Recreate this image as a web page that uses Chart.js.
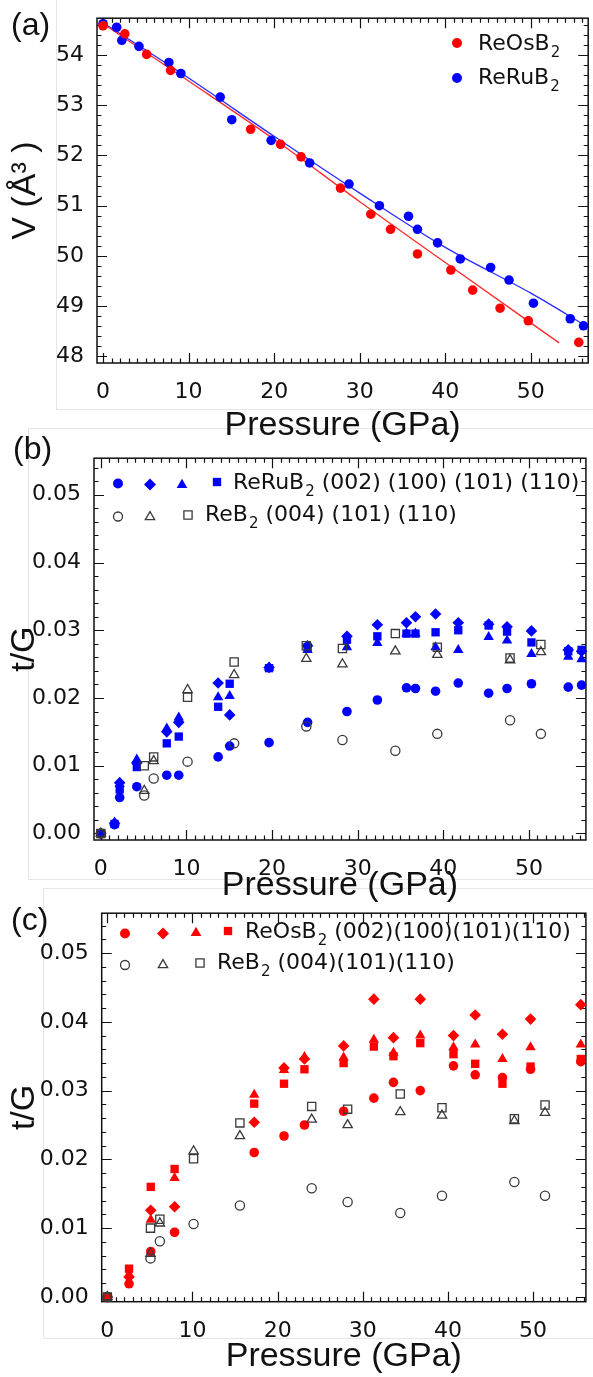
<!DOCTYPE html>
<html>
<head>
<meta charset="utf-8">
<script src="https://cdn.jsdelivr.net/npm/chart.js@4/dist/chart.umd.min.js"></script>
<style>
  html, body { margin: 0; padding: 0; background: #fff; }
  body { position: relative; width: 593px; height: 1377px; overflow: hidden; }
  canvas { position: absolute; left: 0; }
  .frame { position: absolute; border: 1px solid #e6e6e6; }
  .tag { position: absolute; font-family: 'Liberation Sans', Arial, sans-serif; font-size: 32px; line-height: 1; color: #111; }
</style>
</head>
<body>
<div class="frame" style="left:56px; top:-2px; width:540px; height:410px"></div>
<div class="frame" style="left:28px; top:428px; width:570px; height:450px"></div>
<div class="frame" style="left:43px; top:888px; width:555px; height:449px"></div>

<canvas id="chartA" width="593" height="450" style="top:0; width:593px; height:450px"></canvas>
<canvas id="chartB" width="593" height="470" style="top:440px; width:593px; height:470px"></canvas>
<canvas id="chartC" width="593" height="482" style="top:895px; width:593px; height:482px"></canvas>

<div class="tag" style="left:11px; top:8px">(a)</div>
<div class="tag" style="left:13px; top:432px">(b)</div>
<div class="tag" style="left:11px; top:903px">(c)</div>

<script>
// tick labels
const xTicks = [0, 10, 20, 30, 40, 50];
const volTicks = [48, 49, 50, 51, 52, 53, 54];
const tgTicks = [0.00, 0.01, 0.02, 0.03, 0.04, 0.05];

// ReOsB2 pressures (GPa), used in (a) and (c)
const osPressure = [0, 2.55, 5.1, 7.9, 17.25, 20.75, 23.15, 27.75, 31.3, 33.6, 36.75, 40.65, 43.2, 46.4, 49.7, 55.6];
// ReRuB2 pressures (GPa), used in (a) and (b)
const ruPressure = [0, 1.6, 2.2, 4.2, 7.7, 9.1, 13.7, 15.05, 19.65, 24.15, 28.75, 32.3, 35.7, 36.75, 39.1, 41.75, 45.3, 47.45, 50.3, 54.6, 56.15];
// ReB2 reference pressures, used in (b) and (c)
const reb2Pressure = [0, 5.07, 6.17, 10.13, 15.57, 24.0, 28.22, 34.4, 39.3, 47.8, 51.4];

// (a) unit cell volume, A^3
const osVolume = [54.58, 54.42, 54.01, 53.69, 52.52, 52.22, 51.97, 51.35, 50.83, 50.53, 50.04, 49.72, 49.32, 48.96, 48.71, 48.28];
const ruVolume = [54.62, 54.55, 54.29, 54.17, 53.85, 53.63, 53.16, 52.71, 52.30, 51.85, 51.43, 51.0, 50.79, 50.53, 50.26, 49.94, 49.77, 49.52, 49.06, 48.75, 48.61];
// (a) fitted curves
const osFitP = [0, 10, 20, 30, 40, 53.3];
const osFitV = [54.62, 53.48, 52.32, 51.08, 49.87, 48.27];
const ruFitP = [0, 10, 20, 30, 40, 50, 56.7];
const ruFitV = [54.64, 53.54, 52.38, 51.25, 50.17, 49.26, 48.58];

// (b) ReRuB2 t/G
const ru002 = [0, 0.0013, 0.0053, 0.0069, 0.0086, 0.0086, 0.0113, 0.0129, 0.0134, 0.0164, 0.0180, 0.0197, 0.0215, 0.0214, 0.0210, 0.0222, 0.0207, 0.0214, 0.0221, 0.0216, 0.0219];
const ru100 = [0, 0.0015, 0.0075, 0.0104, 0.0150, 0.0164, 0.0222, 0.0175, 0.0245, 0.0277, 0.0291, 0.0308, 0.0311, 0.0320, 0.0324, 0.0311, 0.0309, 0.0305, 0.0299, 0.0271, 0.0269];
const ru101 = [0, 0.0016, 0.0073, 0.0109, 0.0155, 0.0171, 0.0201, 0.0203, 0.0245, 0.0271, 0.0275, 0.0281, 0.0295, 0.0295, 0.0275, 0.0271, 0.0290, 0.0285, 0.0265, 0.0261, 0.0257];
const ru110 = [0, 0.0014, 0.0065, 0.0098, 0.0133, 0.0143, 0.0187, 0.0221, 0.0244, 0.0275, 0.0286, 0.0291, 0.0295, 0.0295, 0.0297, 0.0300, 0.0307, 0.0298, 0.0282, 0.0269, 0.0271];

// (c) ReOsB2 t/G
const os002 = [0, 0.0019, 0.0066, 0.0094, 0.0210, 0.0234, 0.0250, 0.0270, 0.0289, 0.0312, 0.0300, 0.0336, 0.0323, 0.0319, 0.0331, 0.0342];
const os100 = [0, 0.0029, 0.0126, 0.0131, 0.0254, 0.0333, 0.0346, 0.0365, 0.0433, 0.0377, 0.0433, 0.0380, 0.0410, 0.0382, 0.0404, 0.0425];
const os101 = [0, 0.0033, 0.0112, 0.0173, 0.0294, 0.0330, 0.0349, 0.0348, 0.0374, 0.0355, 0.0380, 0.0363, 0.0367, 0.0346, 0.0363, 0.0367];
const os110 = [0, 0.0041, 0.0160, 0.0186, 0.0281, 0.0310, 0.0331, 0.0340, 0.0364, 0.0350, 0.0369, 0.0353, 0.0339, 0.0310, 0.0335, 0.0346];

// ReB2 reference t/G (same in b and c)
const reb2_004 = [0, 0.0056, 0.0081, 0.0106, 0.0133, 0.0158, 0.0138, 0.0122, 0.0147, 0.0167, 0.0147];
const reb2_101 = [0, 0.0063, 0.0107, 0.0212, 0.0234, 0.0258, 0.0250, 0.0269, 0.0264, 0.0256, 0.0268];
const reb2_110 = [0, 0.0100, 0.0113, 0.0201, 0.0253, 0.0277, 0.0273, 0.0295, 0.0275, 0.0259, 0.0279];

const RED = '#ff0000';
const BLUE = '#0000ff';
const GRAY = '#3a3a3a';
const TICK_FONT = { family: 'DejaVu Sans', size: 22 };
const TITLE_FONT = { family: 'Liberation Sans', size: 34 };

const pts = (xs, ys) => xs.map((x, i) => ({ x: x, y: ys[i] }));

// same shapes as Chart.js point styles, for the key
function drawMark(ctx, style, x, y, r, fill, stroke) {
    ctx.beginPath();
    if (style === 'circle') {
        ctx.arc(x, y, r, 0, Math.PI * 2);
    } else if (style === 'rectRot') {
        ctx.moveTo(x, y - r); ctx.lineTo(x + r, y); ctx.lineTo(x, y + r); ctx.lineTo(x - r, y);
    } else if (style === 'triangle') {
        ctx.moveTo(x, y - r); ctx.lineTo(x + 0.866 * r, y + 0.5 * r); ctx.lineTo(x - 0.866 * r, y + 0.5 * r);
    } else {
        const s = r * Math.SQRT1_2;
        ctx.rect(x - s, y - s, 2 * s, 2 * s);
    }
    ctx.closePath();
    if (fill) { ctx.fillStyle = fill; ctx.fill(); }
    if (stroke) { ctx.strokeStyle = stroke; ctx.lineWidth = 1.3; ctx.stroke(); }
}

// box with inward ticks on all four sides
function frameTicks(yMajor, yMinor) {
    return {
        id: 'frameTicks',
        beforeDatasetsDraw(chart) {
            const { ctx, chartArea: a } = chart;
            const xs = chart.scales.x, ys = chart.scales.y;
            ctx.save();
            ctx.strokeStyle = '#111';
            ctx.lineWidth = 1.5;
            ctx.strokeRect(a.left, a.top, a.right - a.left, a.bottom - a.top);
            ctx.lineWidth = 1.2;
            ctx.beginPath();
            const tickX = (v, len) => {
                const p = Math.round(xs.getPixelForValue(v)) + 0.5;
                ctx.moveTo(p, a.bottom); ctx.lineTo(p, a.bottom - len);
                ctx.moveTo(p, a.top); ctx.lineTo(p, a.top + len);
            };
            const tickY = (v, len) => {
                const p = Math.round(ys.getPixelForValue(v)) + 0.5;
                ctx.moveTo(a.left, p); ctx.lineTo(a.left + len, p);
                ctx.moveTo(a.right, p); ctx.lineTo(a.right - len, p);
            };
            for (let i = Math.ceil(xs.min); i <= xs.max; i++) tickX(i, 4.5);
            for (let i = Math.ceil(ys.min / yMinor); i * yMinor <= ys.max; i++) tickY(i * yMinor, 4.5);
            xTicks.forEach(v => tickX(v, 10));
            yMajor.forEach(v => tickY(v, 10));
            ctx.stroke();
            ctx.restore();
        }
    };
}

// legend rows: markers, then a name with subscript 2 and the rest
function markerKey(rows) {
    return {
        id: 'markerKey',
        afterDraw(chart) {
            const ctx = chart.ctx;
            ctx.save();
            rows.forEach(row => {
                row.marks.forEach(m => drawMark(ctx, m[0], m[1], m[2], m[3], row.fill, row.stroke));
                ctx.fillStyle = '#111';
                ctx.textBaseline = 'middle';
                ctx.font = '22px "DejaVu Sans"';
                ctx.fillText(row.name, row.textX, row.textY);
                let x = row.textX + ctx.measureText(row.name).width + 1;
                ctx.font = '15px "DejaVu Sans"';
                ctx.fillText('2', x, row.textY + 9);
                x += ctx.measureText('2').width;
                ctx.font = '22px "DejaVu Sans"';
                ctx.fillText(row.rest, x, row.textY);
            });
            ctx.restore();
        }
    };
}

function makeOptions(cfg) {
    return {
        responsive: false,
        animation: false,
        events: [],
        layout: { padding: { top: cfg.padTop, right: cfg.padRight, left: 0, bottom: 0 } },
        plugins: { legend: { display: false }, tooltip: { enabled: false } },
        scales: {
            x: {
                type: 'linear',
                min: cfg.xMin,
                max: cfg.xMax,
                grid: { display: false },
                border: { display: false },
                afterFit: s => { s.height = cfg.xAxisHeight; },
                afterBuildTicks: s => { s.ticks = xTicks.map(v => ({ value: v })); },
                ticks: { font: TICK_FONT, color: '#111', padding: 8, maxRotation: 0, autoSkip: false },
                title: { display: true, text: 'Pressure (GPa)', font: TITLE_FONT, color: '#111', padding: { top: 0, bottom: cfg.xTitlePad } }
            },
            y: {
                type: 'linear',
                min: cfg.yMin,
                max: cfg.yMax,
                grid: { display: false },
                border: { display: false },
                afterFit: s => { s.width = cfg.yAxisWidth; },
                afterBuildTicks: s => { s.ticks = cfg.yTicks.map(v => ({ value: v })); },
                ticks: { font: TICK_FONT, color: '#111', padding: 5, autoSkip: false, callback: cfg.fmt },
                title: { display: true, text: cfg.yTitle, font: TITLE_FONT, color: '#111', padding: { top: cfg.yTitlePad, bottom: 0 } }
            }
        }
    };
}

function filled(data, style, color, r) {
    return { data: data, pointStyle: style, pointRadius: r, pointBackgroundColor: color, pointBorderColor: color, pointBorderWidth: 0, showLine: false, clip: false };
}
function open(data, style, r) {
    return { data: data, pointStyle: style, pointRadius: r, pointBackgroundColor: 'rgba(0,0,0,0)', pointBorderColor: GRAY, pointBorderWidth: 1.3, showLine: false, clip: false };
}
function reb2Sets() {
    return [
        open(pts(reb2Pressure, reb2_004), 'circle', 4.6),
        open(pts(reb2Pressure, reb2_101), 'triangle', 5.4),
        open(pts(reb2Pressure, reb2_110), 'rect', 5.8)
    ];
}
function hklSets(p, a, b, c, d, color) {
    return [
        filled(pts(p, a), 'circle', color, 4.8),
        filled(pts(p, b), 'rectRot', color, 5.8),
        filled(pts(p, c), 'triangle', color, 6.0),
        filled(pts(p, d), 'rect', color, 5.9)
    ];
}

// (a) volume vs pressure
new Chart(document.getElementById('chartA'), {
    type: 'scatter',
    data: {
        datasets: [
            filled(pts(osPressure, osVolume), 'circle', RED, 4.8),
            filled(pts(ruPressure, ruVolume), 'circle', BLUE, 4.8),
            { data: pts(osFitP, osFitV), showLine: true, pointRadius: 0, borderColor: '#ff2a2a', borderWidth: 1.3, cubicInterpolationMode: 'monotone' },
            { data: pts(ruFitP, ruFitV), showLine: true, pointRadius: 0, borderColor: '#2a2aff', borderWidth: 1.3, cubicInterpolationMode: 'monotone' }
        ]
    },
    options: makeOptions({
        padTop: 7, padRight: 2, yAxisWidth: 97, xAxisHeight: 87, xTitlePad: 4,
        xMin: -0.7, xMax: 56.7, yMin: 47.87, yMax: 54.73,
        yTicks: volTicks, fmt: v => String(v),
        yTitle: 'V (Å³ )', yTitlePad: 5
    }),
    plugins: [
        frameTicks(volTicks, 0.2),
        markerKey([
            { marks: [['circle', 457, 43, 5]], fill: RED, name: 'ReOsB', rest: '', textX: 478, textY: 44 },
            { marks: [['circle', 457, 78, 5]], fill: BLUE, name: 'ReRuB', rest: '', textX: 478, textY: 78 }
        ])
    ]
});

// (b) ReRuB2 lattice strain
new Chart(document.getElementById('chartB'), {
    type: 'scatter',
    data: { datasets: reb2Sets().concat(hklSets(ruPressure, ru002, ru100, ru101, ru110, BLUE)) },
    options: makeOptions({
        padTop: 12, padRight: 1, yAxisWidth: 94, xAxisHeight: 70, xTitlePad: 4,
        xMin: -0.8, xMax: 56.66, yMin: -0.00097, yMax: 0.0554,
        yTicks: tgTicks, fmt: v => v.toFixed(2),
        yTitle: 't/G', yTitlePad: 4
    }),
    plugins: [
        frameTicks(tgTicks, 0.002),
        markerKey([
            { marks: [['circle', 118, 43.5, 5], ['rectRot', 150, 44.5, 6], ['triangle', 182, 45, 6.2], ['rect', 217, 42, 5.9]],
              fill: BLUE, name: 'ReRuB', rest: ' (002) (100) (101) (110)', textX: 233, textY: 43 },
            { marks: [['circle', 118, 76.5, 4.5], ['triangle', 150, 77, 5.4], ['rect', 188, 75, 5.8]],
              stroke: GRAY, name: 'ReB', rest: ' (004) (101) (110)', textX: 205, textY: 75.5 }
        ])
    ]
});

// (c) ReOsB2 lattice strain
new Chart(document.getElementById('chartC'), {
    type: 'scatter',
    data: { datasets: reb2Sets().concat(hklSets(osPressure, os002, os100, os101, os110, RED)) },
    options: makeOptions({
        padTop: 15, padRight: 1, yAxisWidth: 101.7, xAxisHeight: 75.3, xTitlePad: 0,
        xMin: -0.66, xMax: 56.2, yMin: -0.0007, yMax: 0.0558,
        yTicks: tgTicks, fmt: v => v.toFixed(2),
        yTitle: 't/G', yTitlePad: 4
    }),
    plugins: [
        frameTicks(tgTicks, 0.002),
        markerKey([
            { marks: [['circle', 125, 38.5, 5], ['rectRot', 163, 38.5, 6], ['triangle', 196, 38, 6.2], ['rect', 228, 36, 5.9]],
              fill: RED, name: 'ReOsB', rest: ' (002)(100)(101)(110)', textX: 245, textY: 37.5 },
            { marks: [['circle', 125, 70, 4.5], ['triangle', 163, 70, 5.4], ['rect', 200, 68, 5.8]],
              stroke: GRAY, name: 'ReB', rest: ' (004)(101)(110)', textX: 217, textY: 68.5 }
        ])
    ]
});
</script>
</body>
</html>
